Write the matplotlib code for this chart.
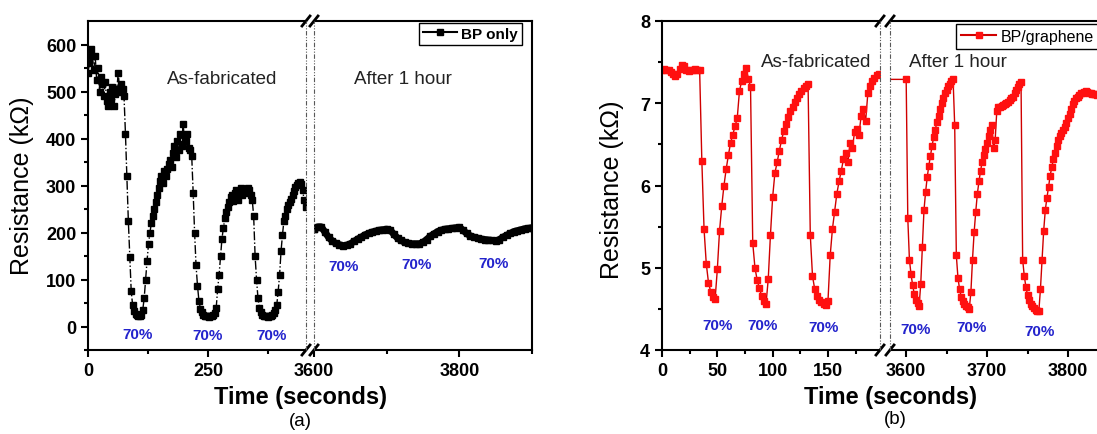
import numpy as np
import matplotlib
matplotlib.use('Agg')
from matplotlib import pyplot as plt
from matplotlib.lines import Line2D

plt.rcParams['font.family'] = ['Liberation Sans', 'DejaVu Sans']

# BP only, as-fabricated: one reading every 3 s from t = 0 (kOhm)
bp_t0, bp_dt = 0, 3
bp_r = [540, 560, 590, 575, 545, 575, 525, 550, 500, 530, 515, 490, 520, 480, 470, 500,
        485, 510, 470, 495, 505, 540, 500, 515, 505, 490,
        410, 320, 225, 148, 75, 45, 32, 27, 24, 22, 23, 25, 35, 60, 100, 140, 175, 200,
        220, 235, 250, 265, 280, 295, 310, 320, 305, 330, 320, 335, 345, 355, 340, 370,
        385, 360, 395, 375, 410, 385, 430, 400, 395, 410, 380, 375,
        363, 285, 200, 130, 87, 55, 38, 30, 25, 23, 22, 22, 21, 22, 22, 24, 28, 40, 80,
        110, 150, 187, 210, 230, 243, 255, 265, 275, 280, 268, 285, 290, 270, 285, 295,
        280, 290, 292, 285, 295, 290, 280, 270,
        235, 150, 100, 60, 40, 30, 25, 23, 22, 22, 21, 22, 23, 25, 28, 35, 45, 74, 110,
        160, 195, 225, 235, 250, 258, 265, 272, 280, 288, 296, 302, 305, 308, 303, 290,
        270, 255]
# BP only, after 1 hour: one reading every 5 s from t = 3600
bp2_t0, bp2_dt = 3600, 5
bp2_r = [208, 212, 212, 201, 190, 182, 177, 174, 172, 173, 176, 181, 186, 190, 195, 198,
         201, 203, 205, 206, 207, 205, 196, 188, 183, 179, 177, 176, 176, 176, 179, 185,
         192, 197, 202, 205, 207, 208, 209, 210, 211, 205, 198, 193, 190, 188, 186, 185,
         184, 183, 182, 185, 190, 194, 198, 202, 204, 206, 208, 209, 210]

# BP/graphene, as-fabricated: one reading every 2 s from t = 0 (kOhm)
bg_t0, bg_dt = 0, 2
bg_r = [7.40, 7.42, 7.40, 7.41, 7.38, 7.36, 7.33, 7.35, 7.42, 7.46, 7.45, 7.40, 7.39,
        7.41, 7.40, 7.42, 7.40, 7.41,
        6.30, 5.47, 5.05, 4.82, 4.71, 4.65, 4.62, 4.98, 5.45, 5.75, 6.00, 6.20, 6.37,
        6.52, 6.62, 6.72, 6.82, 7.15, 7.27, 7.35, 7.43, 7.30, 7.20,
        5.30, 5.00, 4.85, 4.75, 4.66, 4.60, 4.56, 4.86, 5.40, 5.86, 6.15, 6.28, 6.42,
        6.55, 6.66, 6.75, 6.83, 6.90, 6.96, 7.01, 7.06, 7.11, 7.15, 7.19, 7.21, 7.23,
        5.40, 4.90, 4.74, 4.66, 4.61, 4.58, 4.56, 4.55, 4.60, 5.15, 5.47, 5.68, 5.90,
        6.05, 6.18, 6.32, 6.40, 6.28, 6.52, 6.45, 6.65, 6.69, 6.62, 6.85, 6.93, 6.78,
        7.12, 7.21, 7.27, 7.31, 7.34, 7.36]
# BP/graphene, after 1 hour: one reading every 2 s from t = 3600
bg2_t0, bg2_dt = 3600, 2
bg2_r = [7.29, 5.60, 5.10, 4.92, 4.79, 4.68, 4.61, 4.57, 4.54, 4.80, 5.25, 5.70, 5.92,
         6.10, 6.24, 6.36, 6.48, 6.59, 6.68, 6.77, 6.85, 6.93, 7.00, 7.06, 7.12, 7.16,
         7.21, 7.24, 7.27, 7.29,
         6.73, 5.15, 4.88, 4.74, 4.65, 4.60, 4.56, 4.54, 4.52, 4.50,
         4.70, 5.10, 5.43, 5.68, 5.90, 6.05, 6.18, 6.29, 6.37, 6.44, 6.52, 6.60, 6.67,
         6.73, 6.45, 6.55, 6.90, 6.95, 6.96, 6.97, 6.98, 6.99, 7.00, 7.02, 7.04, 7.06,
         7.08, 7.12, 7.16, 7.20, 7.24, 7.26,
         5.10, 4.90, 4.77, 4.67, 4.61, 4.56, 4.53, 4.51, 4.49, 4.48, 4.47,
         4.74, 5.10, 5.45, 5.70, 5.85, 5.98, 6.12, 6.22, 6.32, 6.40, 6.48, 6.55, 6.60,
         6.64, 6.67, 6.71, 6.76, 6.82, 6.87, 6.93, 6.99, 7.03, 7.06, 7.08, 7.10, 7.12,
         7.13, 7.14, 7.15, 7.14, 7.13, 7.12, 7.11, 7.11, 7.11, 7.10]

bp_t = bp_t0 + bp_dt * np.arange(len(bp_r))
bp2_t = bp2_t0 + bp2_dt * np.arange(len(bp2_r))
bg_t = np.concatenate([bg_t0 + bg_dt * np.arange(len(bg_r)),
                       bg2_t0 + bg2_dt * np.arange(len(bg2_r))])
bg_all = np.array(bg_r + bg2_r)

W, H = 1097, 435
TOP, BOT = 22, 351
fig = plt.figure(figsize=(W / 100, H / 100), dpi=100)


def box(x0, x1):
    return [x0 / W, 1 - BOT / H, (x1 - x0) / W, (BOT - TOP) / H]


def style(ax, first):
    for s in ax.spines.values():
        s.set_linewidth(1.5)
    ax.tick_params(which='both', direction='out', width=1.5, top=False, right=False,
                   labelsize=13)
    ax.tick_params(which='major', length=5)
    ax.tick_params(which='minor', length=3)
    for lab in ax.get_xticklabels() + ax.get_yticklabels():
        lab.set_fontweight('bold')
    if first:
        ax.spines['right'].set_visible(False)
    else:
        ax.spines['left'].set_visible(False)
        ax.tick_params(axis='y', which='both', left=False, labelleft=False)


def brk(xa, xb):
    for y in (TOP, BOT):
        for x in (xa, xb):
            fig.add_artist(Line2D([(x - 4) / W, (x + 4) / W], [1 - (y + 5) / H, 1 - (y - 5) / H],
                                  color='k', lw=2))
    for x in (xa, xb):
        fig.add_artist(Line2D([x / W, x / W], [1 - BOT / H, 1 - TOP / H], color='0.35',
                              lw=0.8, ls=(0, (4, 1.5, 1, 1.5, 1, 1.5))))


blue = '#2323cc'
bk = dict(color='k', lw=1, ls='-.', marker='s', ms=4, mfc='k', mec='k')
rd = dict(color='#d00000', lw=1, ls='-', marker='s', ms=4.3, mfc='#ff1010', mec='#ff1010')

# ---- panel (a)
a1 = fig.add_axes(box(88, 306))
a2 = fig.add_axes(box(314, 532))
for ax in (a1, a2):
    ax.plot(np.r_[bp_t, bp2_t[:1]], bp_r + bp2_r[:1], **bk)
    # dense readings after 1 hour merge into a thick band
    ax.plot(bp2_t, bp2_r, color='k', lw=5, solid_joinstyle='round', solid_capstyle='butt',
            marker='s', ms=4.5)
    ax.set_ylim(-50, 650)
a1.set_xlim(0, 454)
a2.set_xlim(3600, 3900)
a1.set_yticks([0, 100, 200, 300, 400, 500, 600])
a1.set_yticks(np.arange(-50, 650, 50), minor=True)
a1.set_xticks([0, 250])
a1.set_xticks([125, 375], minor=True)
a2.set_xticks([3600, 3800])
a2.set_xticks([3700, 3900], minor=True)
style(a1, True)
style(a2, False)
brk(306, 314)

for x, y in [(104, -15), (250, -19), (383, -19)]:
    a1.text(x, y, '70%', color=blue, fontsize=11, fontweight='bold', ha='center', va='center')
for x, y in [(3640, 129), (3741, 134), (3847, 136)]:
    a2.text(x, y, '70%', color=blue, fontsize=11, fontweight='bold', ha='center', va='center')
a1.text(279, 528, 'As-fabricated', fontsize=13.5, ha='center', va='center', color='#222222')
a2.text(3723, 528, 'After 1 hour', fontsize=13.5, ha='center', va='center', color='#222222')
h = Line2D([], [], color='k', lw=1.5, marker='s', ms=4)
leg = a2.legend([h], ['BP only'], loc='upper right', bbox_to_anchor=(1 - 10 / 218, 1 - 2 / 329),
                borderaxespad=0, fancybox=False, edgecolor='k', framealpha=1, borderpad=0.25,
                handlelength=2.2, handletextpad=0.3, prop={'weight': 'bold', 'size': 11})
leg.get_frame().set_linewidth(1)

fig.text(22 / W, 1 - 186 / H, 'Resistance (k\u03a9)', rotation=90, fontsize=18,
         ha='center', va='center')
fig.text(300 / W, 1 - 398 / H, 'Time (seconds)', fontsize=17, fontweight='bold',
         ha='center', va='center')
fig.text(300 / W, 1 - 422 / H, '(a)', fontsize=13.5, ha='center', va='center')

# ---- panel (b)
b1 = fig.add_axes(box(662, 880))
b2 = fig.add_axes(box(890, 1110))
for ax in (b1, b2):
    ax.plot(bg_t, bg_all, **rd)
    ax.set_ylim(4, 8)
b1.set_xlim(0, 197)
b2.set_xlim(3580, 3852)
b1.set_yticks([4, 5, 6, 7, 8])
b1.set_yticks([4.5, 5.5, 6.5, 7.5], minor=True)
b1.set_xticks([0, 50, 100, 150])
b1.set_xticks([25, 75, 125, 175], minor=True)
b2.set_xticks([3600, 3700, 3800])
b2.set_xticks([3650, 3750, 3850], minor=True)
style(b1, True)
style(b2, False)
brk(880, 890)

for x, y in [(50, 4.30), (91, 4.30), (146, 4.28)]:
    b1.text(x, y, '70%', color=blue, fontsize=11, fontweight='bold', ha='center', va='center')
for x, y in [(3612, 4.26), (3681, 4.28), (3765, 4.23)]:
    b2.text(x, y, '70%', color=blue, fontsize=11, fontweight='bold', ha='center', va='center')
b1.text(139, 7.51, 'As-fabricated', fontsize=13.5, ha='center', va='center', color='#222222')
b2.text(3664, 7.51, 'After 1 hour', fontsize=13.5, ha='center', va='center', color='#222222')
h2 = Line2D([], [], color='#d00000', lw=1.5, marker='s', ms=4.3, mfc='#ff1010', mec='#ff1010')
leg2 = b2.legend([h2], ['BP/graphene'], loc='upper right', bbox_to_anchor=(1 - 11 / 220, 1 - 3 / 329),
                 borderaxespad=0, fancybox=False, edgecolor='k', framealpha=1, borderpad=0.3,
                 handlelength=2.2, handletextpad=0.3, prop={'size': 11.5})
leg2.get_frame().set_linewidth(1)

fig.text(612 / W, 1 - 190 / H, 'Resistance (k\u03a9)', rotation=90, fontsize=18,
         ha='center', va='center')
fig.text(891 / W, 1 - 398 / H, 'Time (seconds)', fontsize=17, fontweight='bold',
         ha='center', va='center')
fig.text(895 / W, 1 - 420 / H, '(b)', fontsize=13.5, ha='center', va='center')

fig.savefig('out.png', dpi=100)
